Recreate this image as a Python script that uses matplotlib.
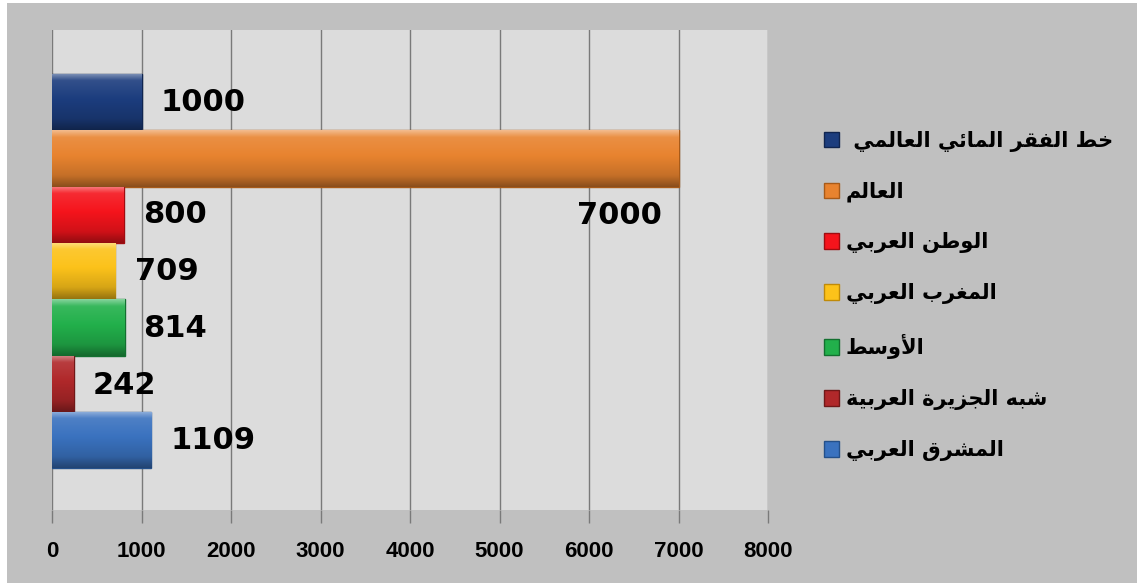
import numpy as np
import matplotlib.pyplot as plt
from matplotlib.colors import to_rgb, ListedColormap
from matplotlib.patches import Patch, Rectangle

# data, top bar first
labels = ["خط الفقر المائي العالمي ", "العالم", "الوطن العربي", "المغرب العربي",
          "الأوسط", "شبه الجزيرة العربية", "المشرق العربي"]
values = [1000, 7000, 800, 709, 814, 242, 1109]
colors = ["#1c3d7e", "#e8832f", "#f5141c", "#fcc21a", "#22b04b", "#b0282a", "#3a72bf"]
edges = ["#102550", "#a85a18", "#a00c10", "#c08a08", "#137030", "#701818", "#24508a"]
xticks = [0, 1000, 2000, 3000, 4000, 5000, 6000, 7000, 8000]

# label offsets (points) from bar end, as placed in the original
label_dx = [14, -12, 14, 14, 13, 14, 14]
label_dy = [0, -41, 0, 0, -1, -1, 0]

# small arabic shaper (presentation forms) since matplotlib does no shaping/bidi
FORMS = {
    'ا': (0xFE8D, 0xFE8E, None, None), 'أ': (0xFE83, 0xFE84, None, None),
    'ب': (0xFE8F, 0xFE90, 0xFE91, 0xFE92), 'ة': (0xFE93, 0xFE94, None, None),
    'ج': (0xFE9D, 0xFE9E, 0xFE9F, 0xFEA0), 'خ': (0xFEA5, 0xFEA6, 0xFEA7, 0xFEA8),
    'ر': (0xFEAD, 0xFEAE, None, None), 'ز': (0xFEAF, 0xFEB0, None, None),
    'س': (0xFEB1, 0xFEB2, 0xFEB3, 0xFEB4), 'ش': (0xFEB5, 0xFEB6, 0xFEB7, 0xFEB8),
    'ط': (0xFEC1, 0xFEC2, 0xFEC3, 0xFEC4), 'ع': (0xFEC9, 0xFECA, 0xFECB, 0xFECC),
    'غ': (0xFECD, 0xFECE, 0xFECF, 0xFED0), 'ف': (0xFED1, 0xFED2, 0xFED3, 0xFED4),
    'ق': (0xFED5, 0xFED6, 0xFED7, 0xFED8), 'ل': (0xFEDD, 0xFEDE, 0xFEDF, 0xFEE0),
    'م': (0xFEE1, 0xFEE2, 0xFEE3, 0xFEE4), 'ن': (0xFEE5, 0xFEE6, 0xFEE7, 0xFEE8),
    'ه': (0xFEE9, 0xFEEA, 0xFEEB, 0xFEEC), 'و': (0xFEED, 0xFEEE, None, None),
    'ي': (0xFEF1, 0xFEF2, 0xFEF3, 0xFEF4), 'ئ': (0xFE89, 0xFE8A, 0xFE8B, 0xFE8C),
}
LIGS = {'أ': (0xFEF7, 0xFEF8, None, None), 'ا': (0xFEFB, 0xFEFC, None, None)}


def forms_of(t):
    if isinstance(t, tuple):
        return LIGS[t[1]]
    return FORMS.get(t)


def shape(s):
    toks = []
    i = 0
    while i < len(s):
        if s[i] == 'ل' and i + 1 < len(s) and s[i + 1] in LIGS:
            toks.append(('LA', s[i + 1]))
            i += 2
        else:
            toks.append(s[i])
            i += 1
    out = []
    for k, t in enumerate(toks):
        f = forms_of(t)
        if f is None:
            out.append(t)
            continue
        pf = forms_of(toks[k - 1]) if k > 0 else None
        nf = forms_of(toks[k + 1]) if k + 1 < len(toks) else None
        jp = pf is not None and pf[2] is not None
        jn = nf is not None and f[2] is not None
        if jp and jn:
            c = f[3]
        elif jp:
            c = f[1]
        elif jn:
            c = f[2]
        else:
            c = f[0]
        out.append(chr(c))
    return ''.join(reversed(out))


def bar_cmap(c):
    # light top edge -> base -> darker bottom, like the excel bevel
    base = np.array(to_rgb(c))
    stops = [base + (1 - base) * 0.45, base + (1 - base) * 0.1, base, base * 0.85, base * 0.6]
    pos = np.linspace(0, 1, 64)
    xs = [0, 0.12, 0.45, 0.8, 1]
    rgb = np.array([np.interp(pos, xs, [s[j] for s in stops]) for j in range(3)]).T
    return ListedColormap(rgb)


fig = plt.figure(figsize=(11.37, 5.87), dpi=100, facecolor="white")
fig.patches.append(Rectangle((7 / 1137, 4 / 587), 1, 580 / 587, transform=fig.transFigure,
                             facecolor="#c0c0c0", edgecolor="none", zorder=-10))

ax = fig.add_axes([52 / 1137, 77 / 587, 716 / 1137, 480 / 587])
ax.set_facecolor("#dcdcdc")

n = len(values)
ypos = list(range(n - 1, -1, -1))
bars = ax.barh(ypos, values, height=1.0, color=colors, edgecolor=edges, linewidth=1, zorder=3)

grad = np.linspace(0, 1, 64).reshape(-1, 1)
for b, c in zip(bars, colors):
    x0, y0, w, h = b.get_x(), b.get_y(), b.get_width(), b.get_height()
    im = ax.imshow(grad, cmap=bar_cmap(c), aspect="auto", origin="upper",
                   extent=[x0, x0 + w, y0, y0 + h], zorder=3.5, interpolation="bilinear")
    im.set_clip_path(b)

for b, v, dx, dy in zip(bars, values, label_dx, label_dy):
    ha = "left" if dx >= 0 else "right"
    ax.annotate(str(v), (v, b.get_y() + b.get_height() / 2), xytext=(dx, dy),
                textcoords="offset points", ha=ha, va="center", fontsize=22,
                fontweight="bold", color="black", zorder=5)

ax.set_xlim(0, 8000)
ax.set_ylim(-1.24, 7.28)
ax.set_xticks(xticks)
ax.set_yticks([])
ax.grid(axis="x", color="#7a7a7a", linewidth=1, zorder=0)
for s in ax.spines.values():
    s.set_visible(False)
ax.tick_params(axis="x", direction="out", length=9, width=1, color="#7a7a7a", pad=13)
for t in ax.get_xticklabels():
    t.set_family(["Liberation Sans", "DejaVu Sans"])
    t.set_fontweight("bold")
    t.set_fontsize(16)

handles = [Patch(facecolor=c, edgecolor=e) for c, e in zip(colors, edges)]
fig.legend(handles, [shape(l) for l in labels], loc="upper left",
           bbox_to_anchor=(805 / 1137, 1 - 112 / 587), frameon=False,
           prop={"family": "DejaVu Sans", "weight": "bold", "size": 15},
           handlelength=0.75, handleheight=0.75, handletextpad=0.3, labelspacing=1.44)

fig.savefig("out.png", dpi=100, facecolor=fig.get_facecolor())
